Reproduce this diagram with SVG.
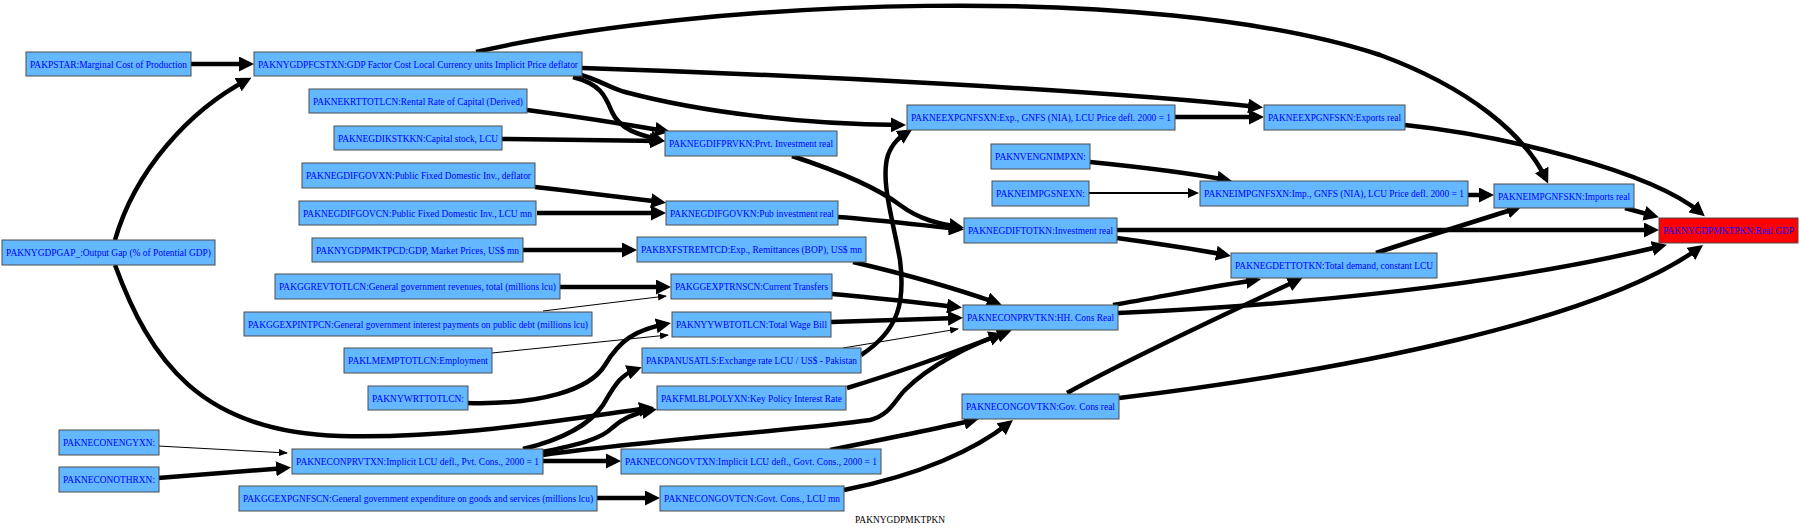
<svg xmlns="http://www.w3.org/2000/svg" width="1800" height="531" viewBox="0 0 1800 531">
<style>
.n rect{fill:#63B8FF;stroke:#4d4d4d;stroke-width:1}
.n.r rect{fill:#FF0000}
.n text{font-family:"Liberation Serif","Times New Roman",serif;font-size:10px;fill:#0000FF;text-anchor:middle}
.e{fill:none;stroke:#000;stroke-width:4.5;marker-end:url(#ah)}
.t{fill:none;stroke:#000;stroke-width:1;marker-end:url(#as)}
.m{fill:none;stroke:#000;stroke-width:2;marker-end:url(#am)}
.lbl{font-family:"Liberation Serif","Times New Roman",serif;font-size:10px;fill:#000;text-anchor:middle}
</style>
<defs>
<marker id="ah" markerUnits="userSpaceOnUse" markerWidth="16" markerHeight="15" refX="10" refY="7.5" orient="auto"><path d="M0,0 L15,7.5 L0,15 z" fill="#000"/></marker>
<marker id="am" markerUnits="userSpaceOnUse" markerWidth="12" markerHeight="10" refX="8" refY="5" orient="auto"><path d="M0,0 L11,5 L0,10 z" fill="#000"/></marker>
<marker id="as" markerUnits="userSpaceOnUse" markerWidth="10" markerHeight="8" refX="8" refY="3.5" orient="auto"><path d="M0,0 L9,3.5 L0,7 z" fill="#000"/></marker>
</defs>
<rect width="1800" height="531" fill="#fff"/>
<g id="edges">
<path class="e" d="M191,64 L249,64"/>
<path class="e" d="M115,240 C135,170 190,110 247,80"/>
<path class="e" d="M115,265 C150,360 200,432 340,436 C450,439 560,420 649,408"/>
<path class="e" d="M476,52 C700,0 1150,-20 1380,55 C1470,88 1525,135 1546,179"/>
<path class="e" d="M582,68 C800,75 1100,90 1258,107"/>
<path class="e" d="M578,74 C600,80 610,88 625,92 C700,112 800,124 901,125"/>
<path class="e" d="M573,77 C600,84 605,95 612,112 C620,130 640,135 660,140"/>
<path class="e" d="M527,110 C580,117 630,125 665,131"/>
<path class="e" d="M502,139 L660,141"/>
<path class="e" d="M535,187 C580,192 630,198 661,202"/>
<path class="e" d="M537,213 L661,213"/>
<path class="e" d="M523,250 L632,250"/>
<path class="e" d="M792,156 C850,175 880,190 900,205 C920,220 940,224 959,227"/>
<path class="e" d="M838,217 C880,220 920,225 959,229"/>
<path class="e" d="M861,355 C900,330 905,300 900,260 C893,220 880,180 888,155 C893,142 900,137 908,132"/>
<path class="e" d="M1175,117 L1259,117"/>
<path class="e" d="M1090,162 C1150,168 1200,175 1227,180"/>
<path class="m" d="M1089,193 L1196,193"/>
<path class="e" d="M1468,195 L1489,195"/>
<path class="e" d="M1625,208 L1654,216"/>
<path class="e" d="M1405,125 C1500,135 1650,170 1701,213"/>
<path class="e" d="M1117,230 L1654,230"/>
<path class="e" d="M1117,238 C1160,244 1200,250 1226,255"/>
<path class="e" d="M1376,253 C1430,235 1480,220 1517,208"/>
<path class="e" d="M1113,305 C1170,295 1220,285 1256,280"/>
<path class="e" d="M1067,393 C1130,358 1230,312 1298,280"/>
<path class="e" d="M1118,313 C1300,305 1500,285 1662,246"/>
<path class="e" d="M1119,398 C1350,370 1600,320 1699,248"/>
<path class="e" d="M543,455 C650,440 800,430 870,420 C890,415 895,400 905,390 C930,365 970,345 1007,332"/>
<path class="e" d="M847,388 C900,372 960,350 999,335"/>
<path class="e" d="M853,262 C900,273 960,290 997,303"/>
<path class="e" d="M832,294 C880,298 920,303 957,307"/>
<path class="e" d="M831,322 L958,318"/>
<path class="t" d="M843,348 L958,329"/>
<path class="e" d="M560,287 L666,287"/>
<path class="t" d="M543,311 L666,296"/>
<path class="e" d="M467,403 C540,405 590,390 605,365 C620,340 635,330 666,324"/>
<path class="e" d="M523,449 C560,440 590,425 603,405 C615,385 620,375 637,369"/>
<path class="e" d="M543,452 C575,445 600,440 612,428 C625,416 640,412 652,410"/>
<path class="e" d="M543,461 L616,461"/>
<path class="e" d="M830,450 C880,440 940,428 974,420"/>
<path class="e" d="M844,490 C920,475 975,450 1009,423"/>
<path class="e" d="M597,498 L655,498"/>
<path class="t" d="M158,446 L287,453"/>
<path class="e" d="M158,478 L286,468"/>
<path class="t" d="M492,353 L668,335"/>
</g>
<g id="PAKPSTAR" class="n"><rect x="26" y="52" width="165" height="24"/><text x="108.5" y="67.5" textLength="157" lengthAdjust="spacingAndGlyphs">PAKPSTAR:Marginal Cost of Production</text></g>
<g id="PAKNYGDPFCSTXN" class="n"><rect x="254" y="52" width="328" height="24"/><text x="418" y="67.5" textLength="320" lengthAdjust="spacingAndGlyphs">PAKNYGDPFCSTXN:GDP Factor Cost Local Currency units Implicit Price deflator</text></g>
<g id="PAKNEKRTTOTLCN" class="n"><rect x="309" y="89" width="218" height="24"/><text x="418" y="104.5" textLength="210" lengthAdjust="spacingAndGlyphs">PAKNEKRTTOTLCN:Rental Rate of Capital (Derived)</text></g>
<g id="PAKNEGDIKSTKKN" class="n"><rect x="334" y="126" width="168" height="24"/><text x="418" y="141.5" textLength="160" lengthAdjust="spacingAndGlyphs">PAKNEGDIKSTKKN:Capital stock, LCU</text></g>
<g id="PAKNEGDIFGOVXN" class="n"><rect x="302" y="163" width="233" height="25"/><text x="418.5" y="179" textLength="225" lengthAdjust="spacingAndGlyphs">PAKNEGDIFGOVXN:Public Fixed Domestic Inv., deflator</text></g>
<g id="PAKNEGDIFGOVCN" class="n"><rect x="299" y="201" width="237" height="24"/><text x="417.5" y="216.5" textLength="229" lengthAdjust="spacingAndGlyphs">PAKNEGDIFGOVCN:Public Fixed Domestic Inv., LCU mn</text></g>
<g id="PAKNYGDPMKTPCD" class="n"><rect x="312" y="238" width="211" height="24"/><text x="417.5" y="253.5" textLength="203" lengthAdjust="spacingAndGlyphs">PAKNYGDPMKTPCD:GDP, Market Prices, US$ mn</text></g>
<g id="PAKNYGDPGAP_" class="n"><rect x="2" y="240" width="213" height="25"/><text x="108.5" y="256" textLength="205" lengthAdjust="spacingAndGlyphs">PAKNYGDPGAP_:Output Gap (% of Potential GDP)</text></g>
<g id="PAKGGREVTOTLCN" class="n"><rect x="275" y="274" width="285" height="25"/><text x="417.5" y="290" textLength="277" lengthAdjust="spacingAndGlyphs">PAKGGREVTOTLCN:General government revenues, total (millions lcu)</text></g>
<g id="PAKGGEXPINTPCN" class="n"><rect x="244" y="312" width="348" height="24"/><text x="418" y="327.5" textLength="340" lengthAdjust="spacingAndGlyphs">PAKGGEXPINTPCN:General government interest payments on public debt (millions lcu)</text></g>
<g id="PAKLMEMPTOTLCN" class="n"><rect x="344" y="348" width="148" height="25"/><text x="418" y="364" textLength="140" lengthAdjust="spacingAndGlyphs">PAKLMEMPTOTLCN:Employment</text></g>
<g id="PAKNYWRTTOTLCN" class="n"><rect x="368" y="386" width="100" height="24"/><text x="418" y="401.5" textLength="92" lengthAdjust="spacingAndGlyphs">PAKNYWRTTOTLCN:</text></g>
<g id="PAKNECONENGYXN" class="n"><rect x="59" y="430" width="100" height="25"/><text x="109" y="446" textLength="92" lengthAdjust="spacingAndGlyphs">PAKNECONENGYXN:</text></g>
<g id="PAKNECONOTHRXN" class="n"><rect x="59" y="467" width="100" height="25"/><text x="109" y="483" textLength="92" lengthAdjust="spacingAndGlyphs">PAKNECONOTHRXN:</text></g>
<g id="PAKNECONPRVTXN" class="n"><rect x="292" y="449" width="251" height="25"/><text x="417.5" y="465" textLength="243" lengthAdjust="spacingAndGlyphs">PAKNECONPRVTXN:Implicit LCU defl., Pvt. Cons., 2000 = 1</text></g>
<g id="PAKGGEXPGNFSCN" class="n"><rect x="239" y="486" width="358" height="25"/><text x="418" y="502" textLength="350" lengthAdjust="spacingAndGlyphs">PAKGGEXPGNFSCN:General government expenditure on goods and services (millions lcu)</text></g>
<g id="PAKNEGDIFPRVKN" class="n"><rect x="665" y="131" width="172" height="25"/><text x="751" y="147" textLength="164" lengthAdjust="spacingAndGlyphs">PAKNEGDIFPRVKN:Prvt. Investment real</text></g>
<g id="PAKNEEXPGNFSXN" class="n"><rect x="907" y="105" width="268" height="25"/><text x="1041" y="121" textLength="260" lengthAdjust="spacingAndGlyphs">PAKNEEXPGNFSXN:Exp., GNFS (NIA), LCU Price defl. 2000 = 1</text></g>
<g id="PAKNVENGNIMPXN" class="n"><rect x="991" y="144" width="99" height="25"/><text x="1040.5" y="160" textLength="91" lengthAdjust="spacingAndGlyphs">PAKNVENGNIMPXN:</text></g>
<g id="PAKNEIMPGSNEXN" class="n"><rect x="992" y="181" width="97" height="25"/><text x="1040.5" y="197" textLength="89" lengthAdjust="spacingAndGlyphs">PAKNEIMPGSNEXN:</text></g>
<g id="PAKNEGDIFGOVKN" class="n"><rect x="666" y="201" width="172" height="24"/><text x="752" y="216.5" textLength="164" lengthAdjust="spacingAndGlyphs">PAKNEGDIFGOVKN:Pub investment real</text></g>
<g id="PAKBXFSTREMTCD" class="n"><rect x="637" y="237" width="229" height="25"/><text x="751.5" y="253" textLength="221" lengthAdjust="spacingAndGlyphs">PAKBXFSTREMTCD:Exp., Remittances (BOP), US$ mn</text></g>
<g id="PAKNEGDIFTOTKN" class="n"><rect x="964" y="218" width="153" height="25"/><text x="1040.5" y="234" textLength="145" lengthAdjust="spacingAndGlyphs">PAKNEGDIFTOTKN:Investment real</text></g>
<g id="PAKGGEXPTRNSCN" class="n"><rect x="671" y="274" width="161" height="25"/><text x="751.5" y="290" textLength="153" lengthAdjust="spacingAndGlyphs">PAKGGEXPTRNSCN:Current Transfers</text></g>
<g id="PAKNYYWBTOTLCN" class="n"><rect x="672" y="312" width="159" height="25"/><text x="751.5" y="328" textLength="151" lengthAdjust="spacingAndGlyphs">PAKNYYWBTOTLCN:Total Wage Bill</text></g>
<g id="PAKPANUSATLS" class="n"><rect x="642" y="348" width="219" height="25"/><text x="751.5" y="364" textLength="211" lengthAdjust="spacingAndGlyphs">PAKPANUSATLS:Exchange rate LCU / US$ - Pakistan</text></g>
<g id="PAKFMLBLPOLYXN" class="n"><rect x="657" y="386" width="189" height="24"/><text x="751.5" y="401.5" textLength="181" lengthAdjust="spacingAndGlyphs">PAKFMLBLPOLYXN:Key Policy Interest Rate</text></g>
<g id="PAKNECONPRVTKN" class="n"><rect x="963" y="305" width="155" height="25"/><text x="1040.5" y="321" textLength="147" lengthAdjust="spacingAndGlyphs">PAKNECONPRVTKN:HH. Cons Real</text></g>
<g id="PAKNECONGOVTKN" class="n"><rect x="962" y="394" width="157" height="25"/><text x="1040.5" y="410" textLength="149" lengthAdjust="spacingAndGlyphs">PAKNECONGOVTKN:Gov. Cons real</text></g>
<g id="PAKNECONGOVTXN" class="n"><rect x="621" y="449" width="260" height="25"/><text x="751" y="465" textLength="252" lengthAdjust="spacingAndGlyphs">PAKNECONGOVTXN:Implicit LCU defl., Govt. Cons., 2000 = 1</text></g>
<g id="PAKNECONGOVTCN" class="n"><rect x="660" y="486" width="184" height="25"/><text x="752" y="502" textLength="176" lengthAdjust="spacingAndGlyphs">PAKNECONGOVTCN:Govt. Cons., LCU mn</text></g>
<g id="PAKNEEXPGNFSKN" class="n"><rect x="1264" y="105" width="141" height="25"/><text x="1334.5" y="121" textLength="133" lengthAdjust="spacingAndGlyphs">PAKNEEXPGNFSKN:Exports real</text></g>
<g id="PAKNEIMPGNFSXN" class="n"><rect x="1200" y="181" width="268" height="25"/><text x="1334" y="197" textLength="260" lengthAdjust="spacingAndGlyphs">PAKNEIMPGNFSXN:Imp., GNFS (NIA), LCU Price defl. 2000 = 1</text></g>
<g id="PAKNEIMPGNFSKN" class="n"><rect x="1494" y="184" width="140" height="24"/><text x="1564" y="199.5" textLength="132" lengthAdjust="spacingAndGlyphs">PAKNEIMPGNFSKN:Imports real</text></g>
<g id="PAKNYGDPMKTPKN" class="n r"><rect x="1659" y="218" width="139" height="25"/><text x="1728.5" y="234" textLength="131" lengthAdjust="spacingAndGlyphs">PAKNYGDPMKTPKN:Real GDP</text></g>
<g id="PAKNEGDETTOTKN" class="n"><rect x="1231" y="253" width="206" height="25"/><text x="1334" y="269" textLength="198" lengthAdjust="spacingAndGlyphs">PAKNEGDETTOTKN:Total demand, constant LCU</text></g>
<text class="lbl" x="900" y="523" textLength="90" lengthAdjust="spacingAndGlyphs">PAKNYGDPMKTPKN</text>
</svg>
